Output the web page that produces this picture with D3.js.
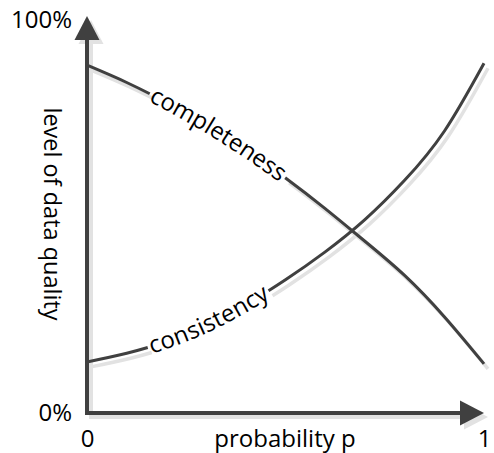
<!DOCTYPE html>
<html>
<head>
<meta charset="utf-8">
<script src="https://cdn.jsdelivr.net/npm/d3@7/dist/d3.min.js"></script>
<style>
  body { margin: 0; background: #fff; }
  svg { display: block; }
  text { font-family: "Open Sans", sans-serif; fill: #000; }
</style>
</head>
<body>
<svg id="chart" width="494" height="453"></svg>
<script>
'use strict';
// values (level in percent)
const pValues      = [0, 0.1, 0.2, 0.3, 0.4, 0.5, 0.6, 0.7, 0.8, 0.9, 1];
const completeness = [88.5, 84.1, 79.0, 73.3, 66.9, 59.8, 52.0, 43.7, 35.0, 24.5, 12.5];
const consistency  = [13.0, 15.2, 18.2, 22.3, 27.6, 33.9, 41.0, 49.2, 59.2, 71.7, 89.0];
const seriesNames  = ["completeness", "consistency"];
const xTicks = [0, 1];
const xTickLabels = ["0", "1"];
const yTicks = [0, 100];
const yTickLabels = ["0%", "100%"];
const xTitle = "probability p";
const yTitle = "level of data quality";

const ink = "#404040";
const shade = "#e2e2e2";

const svg = d3.select("#chart");

const x = d3.scaleLinear().domain([0, 1]).range([87, 484]);
const y = d3.scaleLinear().domain([0, 100]).range([413, 20]);

const x0 = x(0), y0 = y(0);
const xTip = x(1), yTip = y(100) - 4;
const head = 24, half = 12.5;

// axes with arrow heads, shadow first
const drawAxes = (g, color) => {
	g.append("path")
		.attr("d", `M${x0},${yTip + head - 2}L${x0},${y0}L${xTip - head + 2},${y0}`)
		.attr("fill", "none")
		.attr("stroke", color)
		.attr("stroke-width", 4)
		.attr("stroke-linejoin", "miter");
	g.append("path")
		.attr("d", `M${x0},${yTip}L${x0 - half},${yTip + head}L${x0 + half},${yTip + head}Z`)
		.attr("fill", color);
	g.append("path")
		.attr("d", `M${xTip},${y0}L${xTip - head},${y0 - half}L${xTip - head},${y0 + half}Z`)
		.attr("fill", color);
};
drawAxes(svg.append("g").attr("transform", "translate(4,4)"), shade);

// curves
const line = d3.line()
	.x((d, i) => x(pValues[i]))
	.y(d => y(d))
	.curve(d3.curveNatural);

const series = [completeness, consistency];
const labelAt = [0.158, 0.153]; // where each label starts along the curve

const shadows = svg.append("g").attr("transform", "translate(4,5)");
const curves = svg.append("g");
const labels = svg.append("g");

series.forEach((vals, k) => {
	const id = "curve" + k;
	const sh = shadows.append("path")
		.attr("d", line(vals))
		.attr("fill", "none")
		.attr("stroke", shade)
		.attr("stroke-width", 3.5);
	const p = curves.append("path")
		.attr("id", id)
		.attr("d", line(vals))
		.attr("fill", "none")
		.attr("stroke", ink)
		.attr("stroke-width", 3);

	const node = p.node();
	const total = node.getTotalLength();
	// find length along the path where x reaches the label start
	const target = x(labelAt[k]);
	let lo = 0, hi = total;
	for (let i = 0; i < 40; i++) {
		const mid = (lo + hi) / 2;
		if (node.getPointAtLength(mid).x < target) lo = mid; else hi = mid;
	}
	const start = lo;

	const t = labels.append("text")
		.attr("font-size", 24)
		.attr("dy", "0.3em");
	t.append("textPath")
		.attr("href", "#" + id)
		.attr("startOffset", start + 2)
		.text(seriesNames[k]);
	const tl = t.node().getComputedTextLength();
	const dash = `${start} ${tl + 4} ${total}`;
	p.attr("stroke-dasharray", dash);
	sh.attr("stroke-dasharray", dash);
});

drawAxes(svg.append("g"), ink);

// tick labels
const xAxis = svg.append("g")
	.attr("transform", `translate(0,${y0})`)
	.call(d3.axisBottom(x).tickValues(xTicks).tickFormat((d, i) => xTickLabels[i]).tickSize(0).tickPadding(17));
const yAxis = svg.append("g")
	.attr("transform", `translate(${x0},0)`)
	.call(d3.axisLeft(y).tickValues(yTicks).tickFormat((d, i) => yTickLabels[i]).tickSize(0).tickPadding(15));
[xAxis, yAxis].forEach(g => {
	g.select(".domain").remove();
	g.attr("font-family", null).attr("font-size", 24);
	g.selectAll("text").attr("fill", "#000");
});

// axis titles
svg.append("text")
	.attr("x", 285)
	.attr("y", 447)
	.attr("text-anchor", "middle")
	.attr("font-size", 24)
	.text(xTitle);

svg.append("text")
	.attr("transform", "translate(44,214) rotate(90)")
	.attr("text-anchor", "middle")
	.attr("font-size", 23.5)
	.text(yTitle);
</script>
</body>
</html>
